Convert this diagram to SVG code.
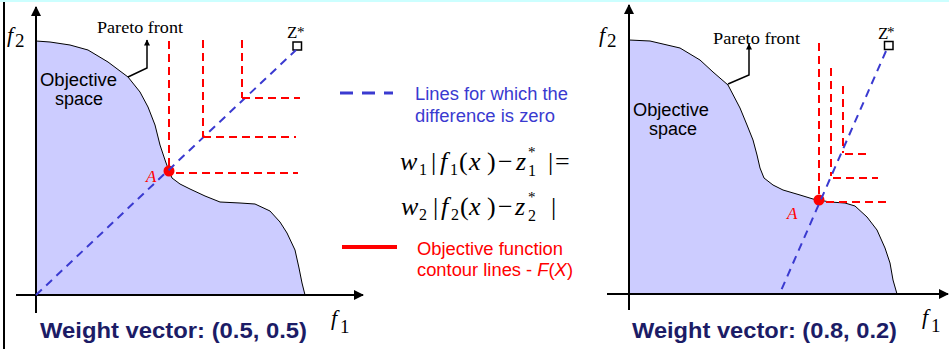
<svg xmlns="http://www.w3.org/2000/svg" width="949" height="349" viewBox="0 0 949 349">
<defs>
<style>
.axis{stroke:#000;stroke-width:2;fill:none}
.space{fill:#ccccff;stroke:#000;stroke-width:1;stroke-linejoin:round}
.blue{stroke:#3a3ad0;stroke-width:2;stroke-dasharray:8,6;fill:none}
.red{stroke:#ff0000;stroke-width:2;stroke-dasharray:8,5;fill:none}
.lead{stroke:#000;stroke-width:1.5;fill:none}
.serif{font-family:"Liberation Serif","Times New Roman",serif;fill:#000}
.it{font-style:italic}
.sans{font-family:"Liberation Sans",Arial,sans-serif}
.wv{font-family:"Liberation Sans",Arial,sans-serif;font-weight:bold;font-size:22.5px;fill:#1c1c66}
.obj{font-family:"Liberation Sans",Arial,sans-serif;font-size:18px;fill:#000}
.m{font-family:"Liberation Serif","Times New Roman",serif;font-size:26px;fill:#000}
.s{font-family:"Liberation Serif","Times New Roman",serif;font-size:15px;fill:#000}
.st{font-family:"Liberation Serif","Times New Roman",serif;font-size:16px;fill:#000}
</style>
<marker id="ah" viewBox="0 0 10 10" refX="9" refY="5" markerWidth="10" markerHeight="10" markerUnits="userSpaceOnUse" orient="auto">
<path d="M0,0 L10,5 L0,10 Z" fill="#000"/>
</marker>
<marker id="sa" viewBox="0 0 10 10" refX="9" refY="5" markerWidth="8" markerHeight="6" markerUnits="userSpaceOnUse" orient="auto">
<path d="M0,0 L10,5 L0,10 Z" fill="#000"/>
</marker>
</defs>
<rect x="0" y="0" width="949" height="2" fill="#ccffff"/>
<line x1="4" y1="2" x2="4" y2="349" stroke="#000" stroke-width="2"/>

<g id="left-diagram">
<g id="left-space">
<path class="space" d="M36,295 L36,41 L50,42 L70,45 L88,50 L108,62 L128,77 L140,92 L148,107 L155,125 L160,145 L165,160 L169,171 L172,178 L180,184 L190,189 L205,196 L220,202 L240,203 L255,204 L270,211 L280,222 L287,233 L295,250 L299,268 L302,283 L305,295 Z"/>
<text class="obj" x="40" y="86" textLength="77" lengthAdjust="spacingAndGlyphs">Objective</text>
<text class="obj" x="55" y="105" textLength="48" lengthAdjust="spacingAndGlyphs">space</text>
</g>
<g id="left-axes">
<line class="axis" x1="36" y1="313" x2="36" y2="7" marker-end="url(#ah)"/>
<line class="axis" x1="16" y1="295" x2="363" y2="295" marker-end="url(#ah)"/>
<text class="serif it" x="7" y="42" font-size="22">f</text>
<text class="serif" x="15" y="47" font-size="19">2</text>
<text class="serif it" x="331" y="325" font-size="22">f</text>
<text class="serif" x="340" y="333" font-size="19">1</text>
</g>
<g id="left-pareto">
<text class="serif" x="97" y="33" font-size="17" textLength="86" lengthAdjust="spacingAndGlyphs">Pareto front</text>
</g>
<g id="left-zstar">
<text class="serif" x="287" y="38" font-size="17">Z</text>
<text class="serif" x="297" y="37" font-size="15">*</text>
<rect x="293" y="42" width="8.5" height="8" fill="#fff" stroke="#000" stroke-width="1.5"/>
</g>
<g id="left-A">
<circle cx="169" cy="171" r="5.5" fill="#ff0000"/>
<text class="serif it" x="146" y="182" font-size="17" style="fill:#ff0000">A</text>
</g>
</g>

<g id="left-connectors">
<polyline class="lead" points="128,77 147,68 147,40" marker-end="url(#sa)"/>
<line class="blue" x1="36" y1="295" x2="296" y2="50"/>
<line class="red" x1="169" y1="41" x2="169" y2="168"/>
<line class="red" x1="176" y1="173" x2="298" y2="173"/>
<line class="red" x1="203" y1="40" x2="203" y2="137"/>
<line class="red" x1="203" y1="137" x2="296" y2="137"/>
<line class="red" x1="242" y1="40" x2="242" y2="98"/>
<line class="red" x1="242" y1="98" x2="300" y2="98"/>
</g>

<g id="legend">
<line x1="340" y1="93" x2="393" y2="93" stroke="#3a3ad0" stroke-width="3" stroke-dasharray="13,9"/>
<text class="sans" x="415" y="100" font-size="17.5" fill="#3a3ad0" textLength="153" lengthAdjust="spacingAndGlyphs">Lines for which the</text>
<text class="sans" x="415" y="122" font-size="17.5" fill="#3a3ad0" textLength="140" lengthAdjust="spacingAndGlyphs">difference is zero</text>
<g id="formula">
<text class="m it" x="400" y="170">w</text>
<text class="st" x="419" y="175">1</text>
<text class="m" x="431" y="170">|</text>
<text class="m it" x="440" y="170">f</text>
<text class="st" x="450" y="175">1</text>
<text class="m" x="459" y="170">(</text>
<text class="m it" x="469" y="170">x</text>
<text class="m" x="487" y="170">)</text>
<text class="m" x="498" y="170">−</text>
<text class="m it" x="516" y="170">z</text>
<text class="s" x="528" y="157">*</text>
<text class="st" x="528" y="176">1</text>
<text class="m" x="548" y="170">|</text>
<text class="m" x="555" y="170">=</text>
<text class="m it" x="401" y="215">w</text>
<text class="st" x="419" y="220">2</text>
<text class="m" x="433" y="215">|</text>
<text class="m it" x="441" y="215">f</text>
<text class="st" x="451" y="220">2</text>
<text class="m" x="460" y="215">(</text>
<text class="m it" x="469" y="215">x</text>
<text class="m" x="487" y="215">)</text>
<text class="m" x="498" y="215">−</text>
<text class="m it" x="515" y="215">z</text>
<text class="s" x="528" y="202">*</text>
<text class="st" x="528" y="221">2</text>
<text class="m" x="551" y="215">|</text>
</g>
<line x1="342" y1="247" x2="397" y2="247" stroke="#ff0000" stroke-width="4"/>
<text class="sans" x="417" y="255" font-size="17.5" fill="#ff0000" textLength="146" lengthAdjust="spacingAndGlyphs">Objective function</text>
<text class="sans" x="417" y="276" font-size="17.5" fill="#ff0000" textLength="156" lengthAdjust="spacingAndGlyphs">contour lines - <tspan font-style="italic">F</tspan>(<tspan font-style="italic">X</tspan>)</text>
</g>

<g id="right-diagram">
<g id="right-space">
<path class="space" d="M629,294 L629,40 L650,41 L680,48 L700,60 L713,72 L728,85 L740,108 L747,125 L753,140 L757,155 L760,168 L764,178 L773,185 L783,190 L800,195 L813,199 L819,200 L830,202 L845,203 L855,206 L867,217 L877,230 L885,248 L890,263 L893,280 L897,294 Z"/>
<text class="obj" x="633" y="116" textLength="76" lengthAdjust="spacingAndGlyphs">Objective</text>
<text class="obj" x="649" y="135" textLength="48" lengthAdjust="spacingAndGlyphs">space</text>
</g>
<g id="right-axes">
<line class="axis" x1="629" y1="310" x2="629" y2="5" marker-end="url(#ah)"/>
<line class="axis" x1="607" y1="294" x2="948" y2="294" marker-end="url(#ah)"/>
<text class="serif it" x="599" y="42" font-size="22">f</text>
<text class="serif" x="607" y="47" font-size="19">2</text>
<text class="serif it" x="922" y="324" font-size="22">f</text>
<text class="serif" x="931" y="332" font-size="19">1</text>
</g>
<g id="right-pareto">
<text class="serif" x="713" y="44" font-size="17" textLength="87" lengthAdjust="spacingAndGlyphs">Pareto front</text>
</g>
<g id="right-zstar">
<text class="serif" x="878" y="39" font-size="17">Z</text>
<text class="serif" x="887" y="37" font-size="15">*</text>
<rect x="884.5" y="41.5" width="8.5" height="8" fill="#fff" stroke="#000" stroke-width="1.5"/>
</g>
<g id="right-A">
<circle cx="819" cy="200" r="5.5" fill="#ff0000"/>
<text class="serif it" x="787" y="219" font-size="17" style="fill:#ff0000">A</text>
</g>
</g>

<g id="right-connectors">
<polyline class="lead" points="728,84 749,75 749,44" marker-end="url(#sa)"/>
<line class="blue" x1="886" y1="51" x2="780" y2="293"/>
<line class="red" x1="819" y1="43" x2="819" y2="197"/>
<line class="red" x1="826" y1="202" x2="890" y2="202"/>
<line class="red" x1="831" y1="68" x2="831" y2="176"/>
<line class="red" x1="833" y1="178" x2="878" y2="178"/>
<line class="red" x1="843" y1="86" x2="843" y2="153"/>
<line class="red" x1="845" y1="154" x2="867" y2="154"/>
</g>

<text class="wv" x="40" y="338" textLength="267" lengthAdjust="spacingAndGlyphs">Weight vector: (0.5, 0.5)</text>
<text class="wv" x="632" y="338" textLength="265" lengthAdjust="spacingAndGlyphs">Weight vector: (0.8, 0.2)</text>
</svg>
